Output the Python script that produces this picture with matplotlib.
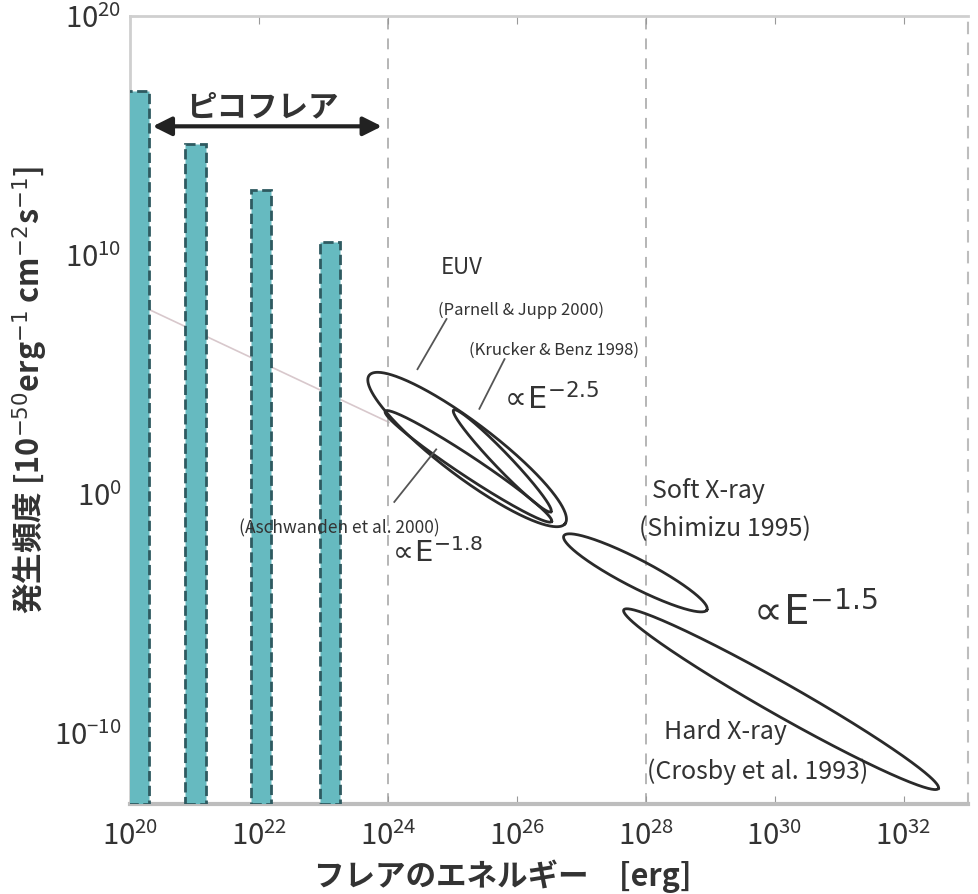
import numpy as np
import matplotlib.pyplot as plt

plt.rcParams['font.family'] = ['Noto Sans CJK JP', 'DejaVu Sans']
plt.rcParams['mathtext.fontset'] = 'dejavusans'

# picoflare bars (log10 energy of bar centre, peak frequency)
bar_log_energy = [20.13, 21.02, 22.03, 23.10]
bar_peak = [7e16, 4.5e14, 5.4e12, 3.5e10]
bar_half_width = 0.16   # in decades of energy

# observed distributions drawn as ellipses: tips in (log E, log f)
ellipse_tip_a = [(23.71, 4.95), (25.02, 3.50), (23.96, 3.45), (26.73, -1.77), (27.66, -4.87)]
ellipse_tip_b = [(26.75, -1.26), (26.53, -0.76), (26.54, -1.17), (28.95, -4.87), (32.54, -12.35)]
ellipse_half_width = [27, 8, 10, 14, 16]   # px

# faint reference power law behind the bars
ref_log_e = [20.31, 24.02]
ref_log_f = [7.69, 2.98]

# leader lines from the small labels to their ellipses
leader_from = [(24.91, 7.31), (25.81, 5.63), (24.10, -0.35)]
leader_to = [(24.46, 5.21), (25.42, 3.55), (24.75, 1.85)]

fig = plt.figure(figsize=(9.79, 8.95), dpi=100)
ax = fig.add_axes([130 / 979, 1 - 805 / 895, (968 - 130) / 979, (805 - 17) / 895])
ax.set_xscale('log')
ax.set_yscale('log')
ax.set_xlim(1e20, 1e33)
ax.set_ylim(1e-13, 1e20)

# bars
lefts = [10 ** (c - bar_half_width) for c in bar_log_energy]
widths = [10 ** (c + bar_half_width) - 10 ** (c - bar_half_width) for c in bar_log_energy]
ax.bar(lefts, [p - 1e-13 for p in bar_peak], width=widths, bottom=1e-13, align='edge',
       color='#66bac0', edgecolor='#2e5a60', linewidth=2, linestyle='--', zorder=3)

ax.plot(10 ** np.array(ref_log_e), 10 ** np.array(ref_log_f), color='#d8c8cc', lw=1.2, zorder=1)

for xv in [1e24, 1e28]:
    ax.axvline(xv, color='#b0b0b0', lw=1.3, ls=(0, (6, 5)), zorder=1)


def draw_ellipse(p1, p2, half_width):
    tips = ax.transData.transform([(10 ** p1[0], 10 ** p1[1]), (10 ** p2[0], 10 ** p2[1])])
    c = tips.mean(axis=0)
    d = tips[1] - tips[0]
    half_len = np.hypot(*d) / 2
    u = d / (2 * half_len)
    v = np.array([-u[1], u[0]])
    t = np.linspace(0, 2 * np.pi, 400)
    pts = c + np.outer(half_len * np.cos(t), u) + np.outer(half_width * np.sin(t), v)
    data = ax.transData.inverted().transform(pts)
    ax.plot(data[:, 0], data[:, 1], color='#2a2a2a', lw=2, zorder=4)


for p1, p2, hw in zip(ellipse_tip_a, ellipse_tip_b, ellipse_half_width):
    draw_ellipse(p1, p2, hw)

for a, b in zip(leader_from, leader_to):
    ax.plot([10 ** a[0], 10 ** b[0]], [10 ** a[1], 10 ** b[1]], color='#555555', lw=1.3, zorder=4)

txt = '#333333'


def label(le, lf, s, size, ha='center', **kw):
    ax.text(10 ** le, 10 ** lf, s, fontsize=size, ha=ha, va='center', color=txt, **kw)


label(25.14, 9.50, 'EUV', 16)
label(26.07, 7.73, '(Parnell & Jupp 2000)', 12)
label(26.58, 6.05, '(Krucker & Benz 1998)', 12)
label(23.25, -1.43, '(Aschwanden et al. 2000)', 12.5)
label(28.98, 0.13, 'Soft X-ray', 18)
label(29.23, -1.43, '(Shimizu 1995)', 18)
label(29.24, -9.96, 'Hard X-ray', 18)
label(29.73, -11.60, '(Crosby et al. 1993)', 18)
label(25.73, 3.95, r'$\propto\!\mathrm{E}^{-2.5}$', 22, ha='left')
label(23.99, -2.48, r'$\propto\!\mathrm{E}^{-1.8}$', 21, ha='left')
label(29.55, -5.0, r'$\propto\!\mathrm{E}^{-1.5}$', 29, ha='left')

# picoflare range
ax.annotate('', xy=(10 ** 23.95, 10 ** 15.38), xytext=(10 ** 20.31, 10 ** 15.38),
            arrowprops=dict(arrowstyle='<|-|>', color='#222222', lw=3, mutation_scale=28),
            zorder=5)
ax.text(10 ** 22.06, 10 ** 16.20, 'ピコフレア', fontsize=22, fontweight='bold',
        ha='center', va='center', color=txt)

# axes styling
ax.set_xticks([10.0 ** k for k in range(20, 33, 2)])
ax.set_yticks([1e-10, 1e0, 1e10, 1e20])
ax.minorticks_off()
ax.tick_params(direction='in', length=6, color='#999999', labelsize=21, labelcolor=txt,
               top=True)
ax.tick_params(axis='x', pad=12)
ax.tick_params(axis='y', pad=6)
for side in ['top', 'left']:
    ax.spines[side].set_color('#cfcfcf')
    ax.spines[side].set_linewidth(2)
ax.spines['bottom'].set_color('#bdbdbd')
ax.spines['bottom'].set_linewidth(3)
ax.spines['right'].set_color('#bdbdbd')
ax.spines['right'].set_linestyle((0, (5, 5)))
ax.spines['right'].set_linewidth(1.5)

fig.text(503 / 979, 1 - 876 / 895, 'フレアのエネルギー　[erg]', fontsize=22, fontweight='bold',
         ha='center', va='center', color=txt)
fig.text(30 / 979, 1 - 390 / 895,
         '発生頻度 [10$^{-50}$erg$^{-1}$ cm$^{-2}$s$^{-1}$]', fontsize=22, fontweight='bold',
         rotation=90, ha='center', va='center', color=txt)

fig.savefig('out.png', dpi=100)
